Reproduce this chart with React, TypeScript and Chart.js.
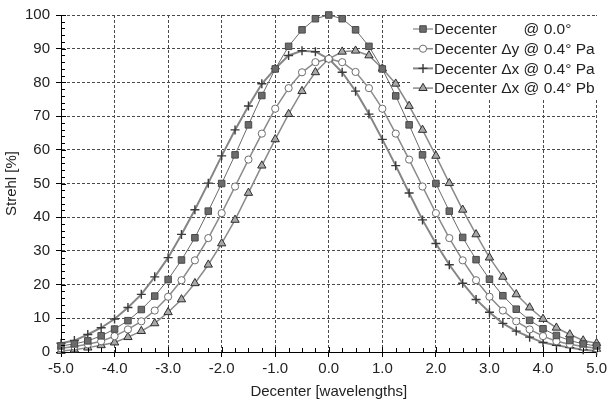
import React, { useEffect, useRef } from "react";
import { Chart, registerables } from "chart.js";
import { drawPoint } from "chart.js/helpers";

Chart.register(...registerables);

const xValues = [
  -5.0, -4.75, -4.5, -4.25, -4.0, -3.75, -3.5, -3.25, -3.0, -2.75, -2.5, -2.25, -2.0, -1.75, -1.5, -1.25, -1.0, -0.75, -0.5, -0.25,
  0.0, 0.25, 0.5, 0.75, 1.0, 1.25, 1.5, 1.75, 2.0, 2.25, 2.5, 2.75, 3.0, 3.25, 3.5, 3.75, 4.0, 4.25, 4.5, 4.75, 5.0,
];

const decenter00 = [
  1.8, 2.4, 3.3, 4.8, 6.8, 9.3, 12.6, 16.6, 21.5, 27.3, 33.9, 41.8, 50.0, 58.5, 67.4, 76.1, 84.0, 90.7, 95.6, 98.9,
  100.0, 98.9, 95.6, 90.7, 84.0, 76.0, 67.4, 58.5, 50.0, 41.8, 34.0, 27.4, 21.6, 16.7, 12.7, 9.4, 6.9, 4.9, 3.4, 2.4, 1.8,
];

const decenterDyPa = [
  1.1, 1.6, 2.3, 3.2, 4.7, 6.7, 9.1, 12.3, 16.4, 21.3, 27.2, 33.8, 41.2, 49.1, 57.1, 64.8, 72.2, 78.3, 83.0, 86.0,
  87.0, 86.0, 83.1, 78.3, 72.2, 64.8, 57.1, 49.1, 41.2, 33.8, 27.2, 21.3, 16.4, 12.3, 9.1, 6.7, 4.7, 3.2, 2.3, 1.6, 1.1,
];

const decenterDxPa = [
  2.6, 3.4, 5.2, 7.2, 9.8, 13.2, 17.1, 22.3, 28.0, 34.9, 42.2, 50.1, 58.2, 65.9, 73.0, 79.6, 84.1, 88.0, 89.4, 89.1,
  87.0, 83.0, 77.4, 70.6, 63.1, 55.3, 47.2, 39.2, 32.2, 25.9, 20.4, 15.6, 11.8, 8.5, 6.2, 4.4, 2.8, 2.0, 1.3, 0.7, 0.3,
];

const decenterDxPb = [
  0.3, 0.7, 1.3, 2.0, 2.8, 4.4, 6.2, 8.5, 11.8, 15.6, 20.4, 25.9, 32.2, 39.2, 47.2, 55.3, 63.1, 70.6, 77.4, 83.0,
  87.0, 89.1, 89.4, 88.0, 84.1, 79.6, 73.0, 65.9, 58.2, 50.1, 42.2, 34.9, 28.0, 22.3, 17.1, 13.2, 9.8, 7.2, 5.2, 3.4, 2.6,
];

const seriesLabels = [
  "Decenter @ 0.0°",
  "Decenter Δy @ 0.4° Pa",
  "Decenter Δx @ 0.4° Pa",
  "Decenter Δx @ 0.4° Pb",
];

const xTitle = "Decenter [wavelengths]";
const yTitle = "Strehl [%]";

const FONT = '"Liberation Sans", Arial, Helvetica, sans-serif';
const TEXT = "#222222";

export default function App() {
  const ref = useRef<HTMLCanvasElement | null>(null);

  useEffect(() => {
    document.body.style.margin = "0";
    const canvas = ref.current;
    if (!canvas) return;

    const toPts = (ys: number[]) => xValues.map((x, i) => ({ x, y: ys[i] }));

    const minorTicks = {
      id: "minorTicks",
      afterDraw(chart: any) {
        const { ctx, chartArea, scales } = chart;
        const xs = scales.x;
        const ys = scales.y;
        ctx.save();
        ctx.strokeStyle = "#000";
        ctx.lineWidth = 1;
        ctx.setLineDash([]);
        ctx.beginPath();
        for (let k = 0; k <= 40; k++) {
          const v = -5 + k * 0.25;
          const px = Math.round(xs.getPixelForValue(v)) + 0.5;
          const len = k % 4 === 0 ? 5 : 4;
          ctx.moveTo(px, chartArea.bottom);
          ctx.lineTo(px, chartArea.bottom - len);
        }
        for (let k = 0; k <= 50; k++) {
          const v = k * 2;
          const py = Math.round(ys.getPixelForValue(v)) + 0.5;
          const len = k % 5 === 0 ? 5 : 4;
          ctx.moveTo(chartArea.left, py);
          ctx.lineTo(chartArea.left + len, py);
        }
        ctx.stroke();
        ctx.restore();
      },
    };

    const legendBox = {
      id: "legendBox",
      afterDatasetsDraw(chart: any) {
        const { ctx } = chart;
        const datasets = chart.data.datasets;
        ctx.save();
        ctx.fillStyle = "#ffffff";
        ctx.fillRect(411, 16, 190, 84);
        ctx.font = `15.5px ${FONT}`;
        ctx.textBaseline = "middle";
        ctx.fillStyle = TEXT;
        const textX = 434;
        const atX = textX + ctx.measureText("Decenter Δy ").width;
        datasets.forEach((ds: any, i: number) => {
          const cy = 29 + i * 19.7;
          ctx.save();
          ctx.strokeStyle = ds.borderColor;
          ctx.lineWidth = ds.borderWidth;
          ctx.setLineDash([]);
          ctx.beginPath();
          ctx.moveTo(413, cy);
          ctx.lineTo(433, cy);
          ctx.stroke();
          ctx.fillStyle = ds.pointBackgroundColor;
          ctx.strokeStyle = ds.pointBorderColor;
          ctx.lineWidth = ds.pointBorderWidth;
          drawPoint(ctx, { pointStyle: ds.pointStyle, radius: ds.pointRadius, borderWidth: ds.pointBorderWidth, rotation: 0 }, 423, cy);
          ctx.restore();
          const label: string = ds.label;
          const idx = label.indexOf("@");
          ctx.fillStyle = TEXT;
          ctx.textAlign = "left";
          ctx.fillText(label.slice(0, idx).trimEnd(), textX, cy + 1);
          ctx.fillText(label.slice(idx), atX, cy + 1);
        });
        ctx.restore();
      },
    };

    const chart = new Chart(canvas, {
      type: "line",
      data: {
        datasets: [
          {
            label: seriesLabels[0],
            data: toPts(decenter00),
            borderColor: "#6a6a6a",
            borderWidth: 1,
            pointStyle: "rect",
            pointRadius: 4.6,
            pointBackgroundColor: "#6b6b6b",
            pointBorderColor: "#4a4a4a",
            pointBorderWidth: 1,
            tension: 0,
            clip: false,
          },
          {
            label: seriesLabels[1],
            data: toPts(decenterDyPa),
            borderColor: "#8a8a8a",
            borderWidth: 1.5,
            pointStyle: "circle",
            pointRadius: 3.6,
            pointBackgroundColor: "#ffffff",
            pointBorderColor: "#6e6e6e",
            pointBorderWidth: 1,
            tension: 0,
            clip: false,
          },
          {
            label: seriesLabels[2],
            data: toPts(decenterDxPa),
            borderColor: "#858585",
            borderWidth: 2,
            pointStyle: "cross",
            pointRadius: 4.5,
            pointBackgroundColor: "#bbbbbb",
            pointBorderColor: "#3a3a3a",
            pointBorderWidth: 1.4,
            tension: 0,
            clip: false,
          },
          {
            label: seriesLabels[3],
            data: toPts(decenterDxPb),
            borderColor: "#8a8a8a",
            borderWidth: 1.5,
            pointStyle: "triangle",
            pointRadius: 4.8,
            pointBackgroundColor: "#a8a8a8",
            pointBorderColor: "#2e2e2e",
            pointBorderWidth: 1,
            tension: 0,
            clip: false,
          },
        ],
      },
      options: {
        responsive: false,
        animation: false,
        devicePixelRatio: 1,
        layout: { padding: { top: 13, right: 10, left: 0, bottom: 0 } },
        plugins: {
          legend: { display: false },
          tooltip: { enabled: false },
        },
        scales: {
          x: {
            type: "linear",
            min: -5,
            max: 5,
            afterFit: (s: any) => {
              s.height = 56;
            },
            ticks: {
              stepSize: 1,
              callback: (v: any) => Number(v).toFixed(1),
              font: { family: FONT, size: 15 },
              color: TEXT,
              padding: 3,
              maxRotation: 0,
              autoSkip: false,
            },
            grid: {
              color: "#4a4a4a",
              lineWidth: 1,
              tickLength: 5,
              tickColor: "#000",
            },
            border: { display: true, color: "#000", width: 1, dash: [3, 2] },
            title: {
              display: true,
              text: xTitle,
              font: { family: FONT, size: 15 },
              color: TEXT,
              padding: { top: 2, bottom: 7 },
            },
          },
          y: {
            type: "linear",
            min: 0,
            max: 100,
            afterFit: (s: any) => {
              s.width = 61;
            },
            ticks: {
              stepSize: 10,
              font: { family: FONT, size: 15 },
              color: TEXT,
              padding: 6,
            },
            grid: {
              color: "#4a4a4a",
              lineWidth: 1,
              tickLength: 5,
              tickColor: "#000",
            },
            border: { display: true, color: "#000", width: 1, dash: [3, 2] },
            title: {
              display: true,
              text: yTitle,
              font: { family: FONT, size: 15 },
              color: TEXT,
              padding: { top: 3, bottom: 0 },
            },
          },
        },
      },
      plugins: [minorTicks, legendBox],
    } as any);

    return () => chart.destroy();
  }, []);

  return (
    <canvas
      ref={ref}
      width={610}
      height={408}
      style={{ display: "block", width: 610, height: 408 }}
    />
  );
}
